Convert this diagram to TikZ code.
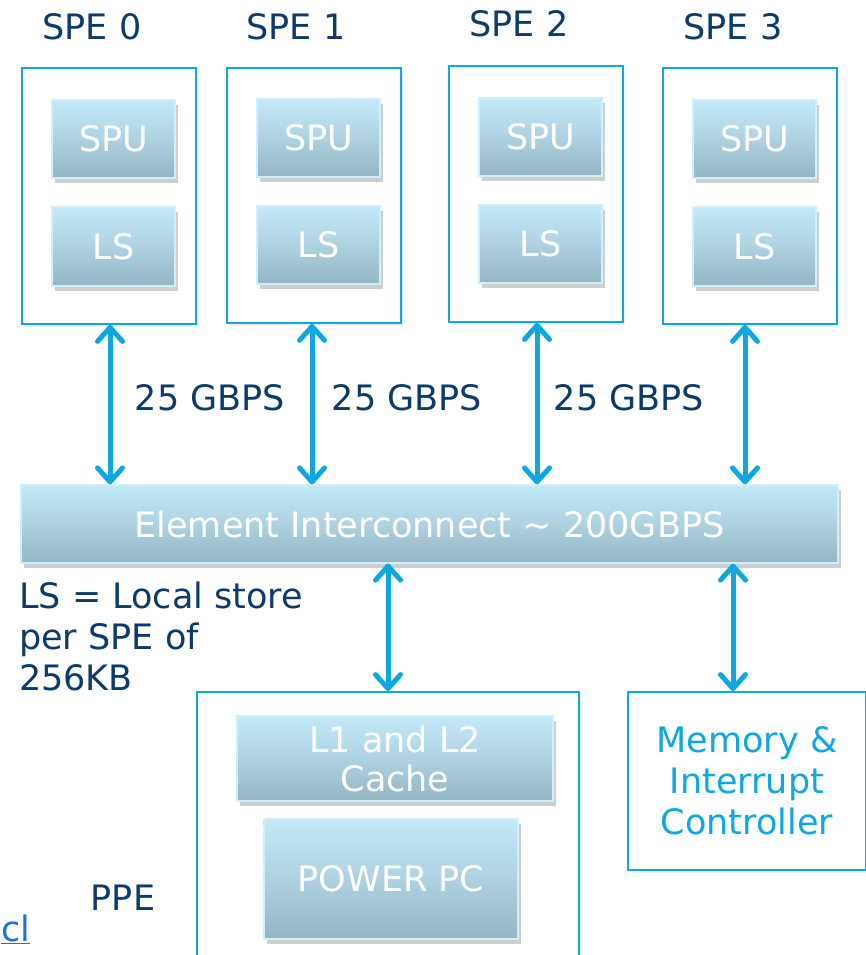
\documentclass[tikz,border=0pt]{standalone}
\usepackage{fontspec}
\setmainfont{DejaVu Sans}
\usetikzlibrary{arrows.meta,shadows}

\definecolor{navy}{HTML}{0B3B6C}
\definecolor{cyanline}{HTML}{0DA8E2}
\definecolor{gtop}{HTML}{C3E9F8}
\definecolor{gbot}{HTML}{94B5C3}
\definecolor{gedge}{HTML}{CFEFFA}
\definecolor{linkblue}{HTML}{1E6FE6}

\tikzset{
  outerbox/.style={draw=cyanline, line width=1.8pt, fill=white,
    drop shadow={shadow xshift=2pt, shadow yshift=-3pt, opacity=0.12}},
  unit/.style={top color=gtop, bottom color=gbot, middle color=gtop!55!gbot,
    draw=gedge, line width=1.2pt,
    text=white, font=\fontsize{35}{39}\selectfont, align=center, inner sep=0pt,
    drop shadow={shadow xshift=3pt, shadow yshift=-5pt, opacity=0.38}},
  label/.style={text=navy, font=\fontsize{35}{41}\selectfont, inner sep=0pt},
  link/.style={cyanline, line width=5pt,
    {Straight Barb[length=14pt, width=25pt, round]}-{Straight Barb[length=14pt, width=25pt, round]}},
}

\begin{document}
\begin{tikzpicture}[x=1pt, y=-1pt]
\clip (0,0) rectangle (866,955);
\fill[white] (0,0) rectangle (866,955);

% SPE titles
\node[label] (t0) at (92,27) {SPE 0};
\node[label] (t1) at (296,27) {SPE 1};
\node[label] (t2) at (519,24) {SPE 2};
\node[label] (t3) at (733,27) {SPE 3};

% SPE frames
\node[outerbox, minimum width=174, minimum height=256] (spe0) at (109,196) {};
\node[outerbox, minimum width=174, minimum height=255] (spe1) at (314,195.5) {};
\node[outerbox, minimum width=174, minimum height=256] (spe2) at (536,194) {};
\node[outerbox, minimum width=174, minimum height=256] (spe3) at (750,196) {};

% SPU and local store units
\node[unit, minimum width=123, minimum height=78] (spu0) at (113.5,139) {SPU};
\node[unit, minimum width=123, minimum height=79] (ls0) at (113.5,246.5) {LS};
\node[unit, minimum width=123, minimum height=78] (spu1) at (318.5,138) {SPU};
\node[unit, minimum width=123, minimum height=78] (ls1) at (318.5,245) {LS};
\node[unit, minimum width=123, minimum height=78] (spu2) at (540.5,137) {SPU};
\node[unit, minimum width=123, minimum height=78] (ls2) at (540.5,244) {LS};
\node[unit, minimum width=123, minimum height=78] (spu3) at (754.5,139) {SPU};
\node[unit, minimum width=123, minimum height=79] (ls3) at (754.5,246.5) {LS};

% Element interconnect bus
\node[unit, minimum width=817, minimum height=78] (eib) at (429.5,524) {Element Interconnect \textasciitilde{} 200GBPS};

% Bandwidth labels
\node[label] (bw0) at (210,398) {25 GBPS};
\node[label] (bw1) at (407,398) {25 GBPS};
\node[label] (bw2) at (629,398) {25 GBPS};

% Note
\node[label, align=left, anchor=north west] (note) at (19,582) {LS = Local store\\per SPE of\\256KB};

% PPE
\node[outerbox, minimum width=382, minimum height=300] (ppe) at (388,842) {};
\node[unit, minimum width=316, minimum height=85] (cache) at (395,758.5) {L1 and L2\\Cache};
\node[unit, minimum width=254, minimum height=120] (ppc) at (391,879) {POWER PC};
\node[label] (ppelbl) at (123,898) {PPE};

% Memory and interrupt controller
\node[outerbox, minimum width=238, minimum height=178, text=cyanline, align=center,
      font=\fontsize{35}{41}\selectfont] (mem) at (747,781) {Memory \&\\Interrupt\\Controller};

% Link fragment
\node[text=linkblue, font=\fontsize{35}{41}\selectfont, inner sep=0pt, anchor=base west] (lnk) at (1,941) {\underline{cl}};

% Connections
\draw[link] ([xshift=1pt]spe0.south) -- ([xshift=1pt]spe0.south |- eib.north);
\draw[link] ([xshift=-2pt]spe1.south) -- ([xshift=-2pt]spe1.south |- eib.north);
\draw[link] ([xshift=1pt]spe2.south) -- ([xshift=1pt]spe2.south |- eib.north);
\draw[link] ([xshift=-5pt]spe3.south) -- ([xshift=-5pt]spe3.south |- eib.north);
\draw[link] (ppe.north) -- (ppe.north |- eib.south);
\draw[link] ([xshift=-14pt]mem.north) -- ([xshift=-14pt]mem.north |- eib.south);
\end{tikzpicture}
\end{document}
